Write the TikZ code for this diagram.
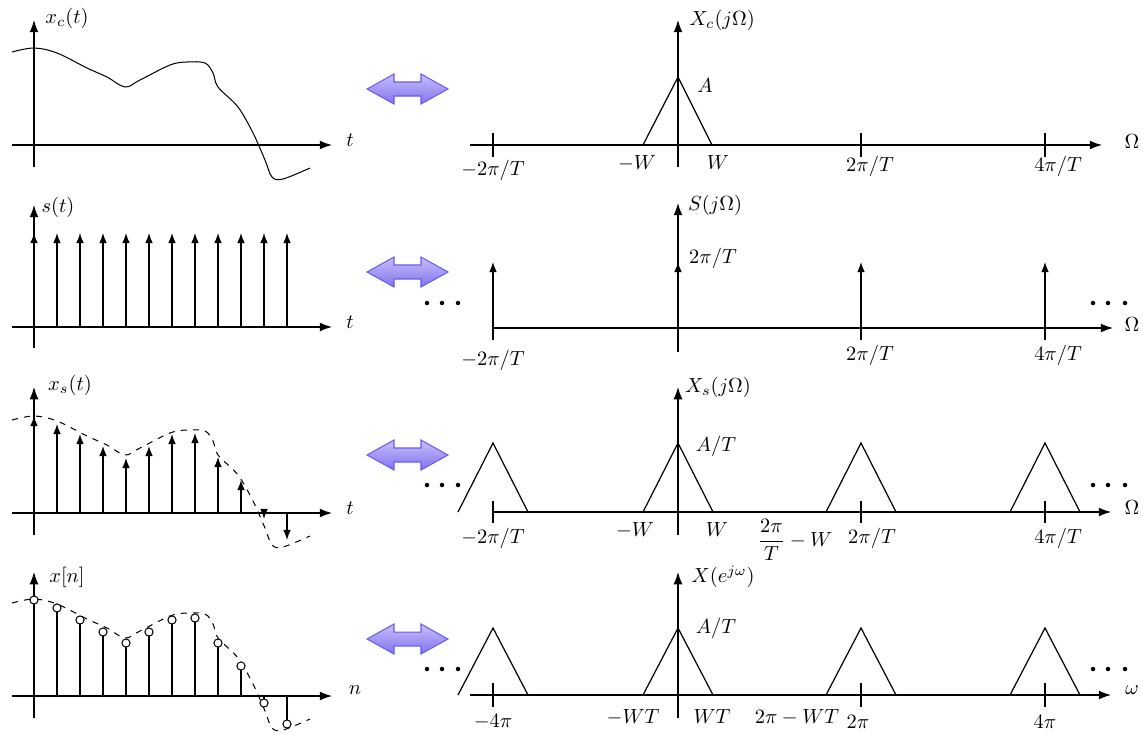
\documentclass[tikz,border=0pt]{standalone}
\usepackage{amsmath}
\usetikzlibrary{arrows.meta}
\definecolor{arrTop}{RGB}{200,190,253}
\definecolor{arrBot}{RGB}{130,115,235}
\definecolor{arrEdge}{RGB}{105,90,240}
\newcommand\curvepts{(12,-93) (34,-97) (57,-92) (87,-77) (107,-68) (125,-58) (140,-65) (170,-80) (187,-83) (205,-82) (213,-72) (218,-58) (238,-38) (253,-12) (265,15) (272,32) (283,34) (310,23)}
\begin{document}
\begin{tikzpicture}[x=0.49pt,y=-0.49pt,
  ax/.style={line width=0.6pt,-{Latex[length=6pt,width=4.4pt]}},
  imp/.style={line width=0.6pt,-{Latex[length=5pt,width=3.8pt]}},
  plain/.style={line width=0.6pt},
  sig/.style={line width=0.5pt},
  lbl/.style={inner sep=0pt},
  darrow/.style={draw=arrEdge,line width=0.5pt,top color=arrTop,bottom color=arrBot},
  bigdot/.style={fill=black}]
\useasboundingbox (0,0) rectangle (1143,734);

% ---------------- double arrows ----------------
\foreach \cy in {89,272,455,639}{
  \path[darrow] (367,\cy) -- (394,{\cy-15}) -- (394,{\cy-7}) -- (421,{\cy-7}) -- (421,{\cy-15}) -- (448,\cy)
    -- (421,{\cy+15}) -- (421,{\cy+7}) -- (394,{\cy+7}) -- (394,{\cy+15}) -- cycle;
}

% ---------------- left row 1 ----------------
\draw[ax] (12,145) -- (332,145);
\draw[ax] (34,167) -- (34,20);
\node[lbl] (l1y) at (67,18) {$x_c(t)$};
\node[lbl] (l1t) at (350,140) {$t$};
\begin{scope}[shift={(0,145)}]
  \draw[sig] plot[smooth,tension=0.55] coordinates {\curvepts};
\end{scope}

% ---------------- left row 2 ----------------
\draw[ax] (12,327) -- (332,327);
\draw[ax] (34,348) -- (34,205);
\node[lbl] (l2y) at (58,207) {$s(t)$};
\node[lbl] (l2t) at (350,322) {$t$};
\foreach \i in {0,...,11}{
  \draw[imp] ({34+23*\i},327) -- ({34+23*\i},233);
}

% ---------------- left row 3 ----------------
\draw[ax] (12,513) -- (332,513);
\draw[ax] (34,535) -- (34,387);
\node[lbl] (l3y) at (70,385) {$x_s(t)$};
\node[lbl] (l3t) at (350,508) {$t$};
\begin{scope}[shift={(0,513)}]
  \draw[sig,dashed] plot[smooth,tension=0.55] coordinates {\curvepts};
\end{scope}
\foreach \i/\h in {0/97,1/89,2/79,3/67,4/55,5/67,6/79,7/80,8/56,9/33,10/-6,11/-27}{
  \draw[imp] ({34+23*\i},513) -- ({34+23*\i},{513-\h});
}

% ---------------- left row 4 ----------------
\draw[ax] (12,696) -- (332,696);
\draw[ax] (34,718) -- (34,572);
\node[lbl] (l4y) at (67,577) {$x[n]$};
\node[lbl] (l4t) at (355,690) {$n$};
\begin{scope}[shift={(0,696)}]
  \draw[sig,dashed] plot[smooth,tension=0.55] coordinates {\curvepts};
\end{scope}
\foreach \i/\h in {0/96,1/88,2/76,3/64,4/53,5/64,6/76,7/78,8/53,9/30,10/-7,11/-28}{
  \draw[sig] ({34+23*\i},696) -- ({34+23*\i},{696-\h});
  \draw[sig,fill=white] ({34+23*\i},{696-\h}) circle[radius=2pt];
}

% ---------------- right row 1 ----------------
\draw[ax] (470,145) -- (1102,145);
\draw[ax] (678,167) -- (678,20);
\foreach \x in {493,861,1045}{ \draw[plain] (\x,133) -- (\x,157); }
\draw[plain] (643,145) -- (678,77) -- (712,145);
\node[lbl] (r1y) at (722,20) {$X_c(j\Omega)$};
\node[lbl] (r1A) at (705,86) {$A$};
\node[lbl] (r1mw) at (637,163) {$-W$};
\node[lbl] (r1w) at (718,163) {$W$};
\node[lbl] (r1a) at (493,170) {$-2\pi/T$};
\node[lbl] (r1b) at (870,166) {$2\pi/T$};
\node[lbl] (r1c) at (1058,166) {$4\pi/T$};
\node[lbl] (r1O) at (1132,142) {$\Omega$};

% ---------------- right row 2 ----------------
\draw[ax] (493,328) -- (1113,328);
\draw[ax] (678,352) -- (678,203);
\foreach \x in {493,861,1045}{ \draw[imp] (\x,340) -- (\x,262); }
\draw[imp] (678,328) -- (678,262);
\node[lbl] (r2y) at (715,205) {$S(j\Omega)$};
\node[lbl] (r2h) at (713,258) {$2\pi/T$};
\node[lbl] (r2a) at (493,360) {$-2\pi/T$};
\node[lbl] (r2b) at (870,355) {$2\pi/T$};
\node[lbl] (r2c) at (1058,355) {$4\pi/T$};
\node[lbl] (r2O) at (1132,325) {$\Omega$};
\foreach \x in {427,442,458,1093,1108,1125}{ \fill[bigdot] (\x,303) circle[radius=1.1pt]; }

% ---------------- right row 3 ----------------
\draw[ax] (493,512) -- (1111,512);
\draw[ax] (678,535) -- (678,387);
\foreach \x in {493,861,1045}{ \draw[plain] (\x,501) -- (\x,523); }
\foreach \c in {493,678,861,1045}{ \draw[plain] ({\c-35},512) -- (\c,443) -- ({\c+35},512); }
\node[lbl] (r3y) at (718,387) {$X_s(j\Omega)$};
\node[lbl] (r3h) at (716,446) {$A/T$};
\node[lbl] (r3mw) at (635,530) {$-W$};
\node[lbl] (r3w) at (717,530) {$W$};
\node[lbl] (r3f) at (795,540) {$\dfrac{2\pi}{T}-W$};
\node[lbl] (r3a) at (493,538) {$-2\pi/T$};
\node[lbl] (r3b) at (872,538) {$2\pi/T$};
\node[lbl] (r3c) at (1058,538) {$4\pi/T$};
\node[lbl] (r3O) at (1132,508) {$\Omega$};
\foreach \x in {427,442,458,1093,1108,1125}{ \fill[bigdot] (\x,485) circle[radius=1.1pt]; }

% ---------------- right row 4 ----------------
\draw[ax] (470,695) -- (1111,695);
\draw[ax] (678,718) -- (678,572);
\foreach \x in {493,861,1045}{ \draw[plain] (\x,683) -- (\x,707); }
\foreach \c in {493,678,861,1045}{ \draw[plain] ({\c-35},695) -- (\c,628) -- ({\c+35},695); }
\node[lbl] (r4y) at (723,577) {$X(e^{j\omega})$};
\node[lbl] (r4h) at (716,628) {$A/T$};
\node[lbl] (r4a) at (493,722) {$-4\pi$};
\node[lbl] (r4mw) at (633,717) {$-WT$};
\node[lbl] (r4w) at (712,717) {$WT$};
\node[lbl] (r4f) at (797,717) {$2\pi-WT$};
\node[lbl] (r4b) at (858,722) {$2\pi$};
\node[lbl] (r4c) at (1045,722) {$4\pi$};
\node[lbl] (r4O) at (1132,690) {$\omega$};
\foreach \x in {427,442,458,1093,1108,1125}{ \fill[bigdot] (\x,669) circle[radius=1.1pt]; }
\end{tikzpicture}
\end{document}
